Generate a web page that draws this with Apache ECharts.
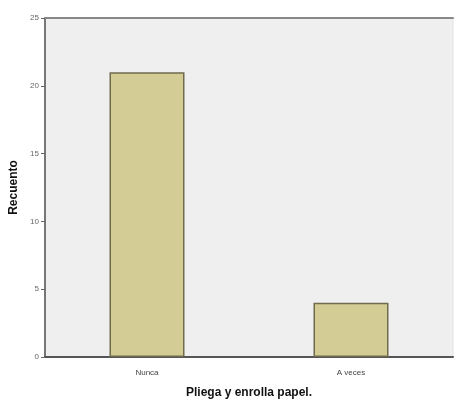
<!DOCTYPE html>
<html><head><meta charset="utf-8">
<script src="https://cdn.jsdelivr.net/npm/echarts@6/dist/echarts.min.js"></script>
<style>html,body{margin:0;padding:0;background:#fff}#c{width:458px;height:401px}</style>
</head><body><div id="c"></div>
<script>
const categories = ['Nunca', 'A veces'];
const counts = [21, 4];
const yTicks = [0, 5, 10, 15, 20, 25];

const chart = echarts.init(document.getElementById('c'));
chart.setOption({
  animation: false,
  backgroundColor: '#ffffff',
  grid: { left: 45, right: 5, top: 18, bottom: 44, outerBoundsMode: 'none', show: true, backgroundColor: '#efefef', borderWidth: 1, borderColor: '#e2e2e2' },
  xAxis: [{
    type: 'category', data: categories,
    axisLine: { lineStyle: { color: '#555', width: 2 } },
    axisTick: { alignWithLabel: true, length: 5, lineStyle: { color: '#555' } },
    axisLabel: { fontSize: 8, color: '#444', fontFamily: 'Liberation Sans', margin: 12 },
    name: 'Pliega y enrolla papel.', nameLocation: 'middle', nameGap: 30,
    nameTextStyle: { fontSize: 12, fontWeight: 'bold', color: '#111', fontFamily: 'Liberation Sans' }
  }, {
    type: 'category', data: categories, position: 'top',
    axisLine: { lineStyle: { color: '#888', width: 2 } },
    axisTick: { show: false }, axisLabel: { show: false }
  }],
  yAxis: {
    type: 'value', min: yTicks[0], max: yTicks[yTicks.length - 1], interval: 5,
    axisLine: { show: true, lineStyle: { color: '#777', width: 2 } },
    axisTick: { show: true, length: 4, lineStyle: { color: '#666' } },
    splitLine: { show: false },
    axisLabel: { fontSize: 8, color: '#666', fontFamily: 'Liberation Sans', margin: 6 },
    name: 'Recuento', nameLocation: 'middle', nameGap: 23,
    nameTextStyle: { fontSize: 12, fontWeight: 'bold', color: '#111', fontFamily: 'Liberation Sans' }
  },
  series: [{
    type: 'bar', data: counts, barWidth: 75,
    itemStyle: { color: '#d3cd95', borderColor: '#6f6b4c', borderWidth: 1.5 }
  }]
});
</script></body></html>
